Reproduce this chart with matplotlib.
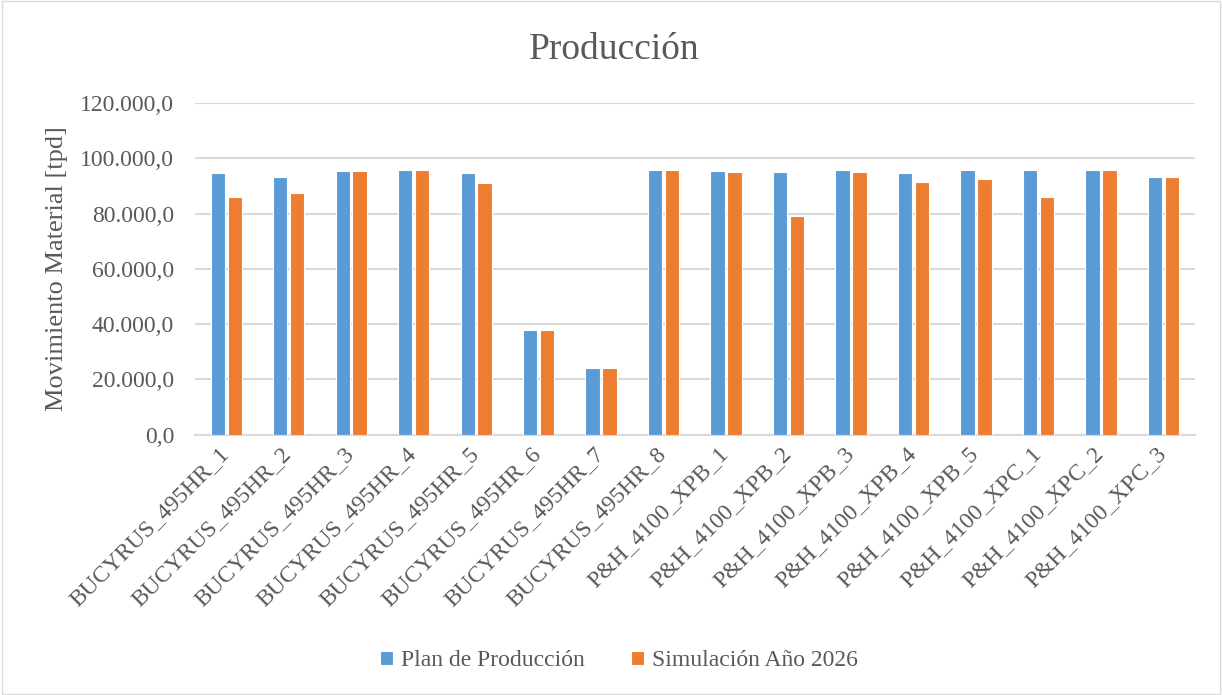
import matplotlib
matplotlib.use("Agg")
import matplotlib.pyplot as plt
import matplotlib.transforms as mtransforms
import numpy as np
from matplotlib.ticker import FuncFormatter

# datos
equipos = ["BUCYRUS_495HR_1", "BUCYRUS_495HR_2", "BUCYRUS_495HR_3", "BUCYRUS_495HR_4",
           "BUCYRUS_495HR_5", "BUCYRUS_495HR_6", "BUCYRUS_495HR_7", "BUCYRUS_495HR_8",
           "P&H_4100_XPB_1", "P&H_4100_XPB_2", "P&H_4100_XPB_3", "P&H_4100_XPB_4",
           "P&H_4100_XPB_5", "P&H_4100_XPC_1", "P&H_4100_XPC_2", "P&H_4100_XPC_3"]
plan = [94700, 93200, 95300, 95900, 94700, 38000, 24000, 95900,
        95300, 95100, 95900, 94700, 95900, 95900, 95900, 93200]
simulacion = [86000, 87500, 95300, 95900, 90900, 38000, 24000, 95900,
              95100, 79100, 95000, 91300, 92400, 86000, 95900, 93200]

gris = "#595959"
plt.rcParams['font.family'] = ['Liberation Serif', 'DejaVu Serif']

fig = plt.figure(figsize=(12.22, 6.95), dpi=100)
ax = fig.add_axes([0.1596, 0.3748, 0.818, 0.477])

x = np.arange(len(equipos))
w = 0.23
ax.bar(x - 0.135, plan, w, color="#5b9bd5", edgecolor="white", linewidth=0.8,
       label="Plan de Producción", zorder=3)
ax.bar(x + 0.135, simulacion, w, color="#ed7d31", edgecolor="white", linewidth=0.8,
       label="Simulación Año 2026", zorder=3)

ax.set_xlim(-0.5, len(equipos) - 0.5)
ax.set_ylim(0, 120000)
ax.set_yticks(np.arange(0, 120001, 20000))
ax.yaxis.set_major_formatter(FuncFormatter(
    lambda v, p: "{:,.1f}".format(v).replace(",", "X").replace(".", ",").replace("X", ".")))
ax.grid(axis="y", color="#d9d9d9", linewidth=1.5, zorder=0)
for s in ["top", "right", "left"]:
    ax.spines[s].set_visible(False)
ax.spines["bottom"].set_color("#d9d9d9")
ax.spines["bottom"].set_linewidth(1.5)
ax.tick_params(axis="y", length=0, labelsize=17, labelcolor=gris, pad=15)
ax.tick_params(axis="x", length=0, labelsize=17, labelcolor=gris, pad=4)
ax.set_xticks(x)
ax.set_xticklabels(equipos, rotation=45, ha="right", va="top", rotation_mode="anchor")
desplaza = mtransforms.ScaledTranslation(-8 / 100, -3 / 100, fig.dpi_scale_trans)
for lbl in ax.get_xticklabels():
    lbl.set_transform(lbl.get_transform() + desplaza)

ax.set_ylabel("Movimiento Material [tpd]", fontsize=19, color=gris)
ax.yaxis.set_label_coords(-0.127, 0.5)
fig.text(0.5025, 0.928, "Producción", fontsize=27, color=gris, ha="center", va="center")

ax.legend(loc="center", bbox_to_anchor=(0.5065, 0.049), bbox_transform=fig.transFigure,
          ncol=2, frameon=False, fontsize=17, labelcolor=gris, handlelength=0.55,
          handleheight=0.55, handletextpad=0.3, columnspacing=2.0)

fig.patches.append(plt.Rectangle((0.002, 0.002), 0.996, 0.996, transform=fig.transFigure,
                                 fill=False, edgecolor="#d9d9d9", linewidth=1))

fig.savefig("out.png", dpi=100)
